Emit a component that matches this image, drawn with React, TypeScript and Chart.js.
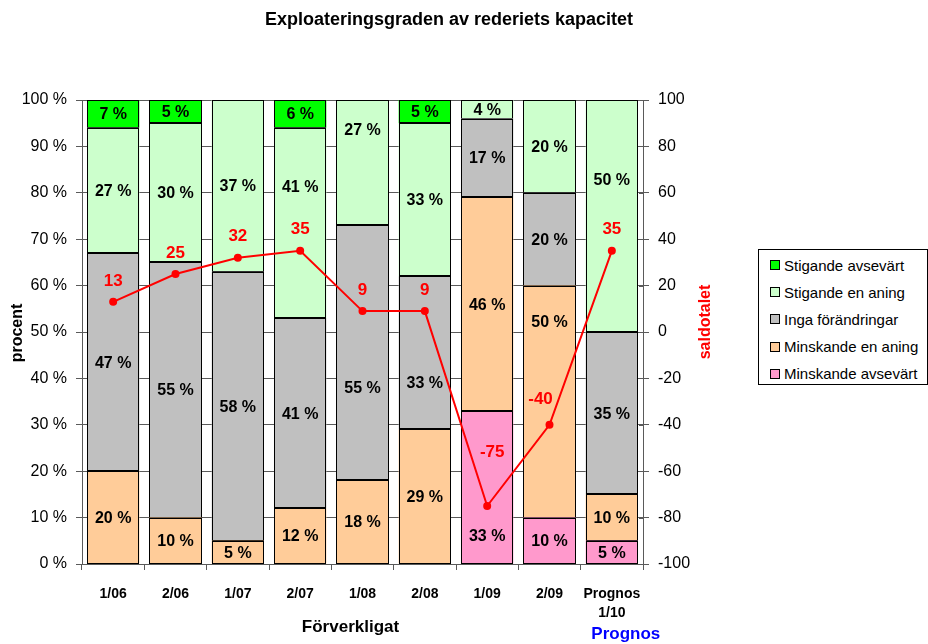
import { useEffect, useRef } from 'react';
import { Chart, registerables } from 'chart.js';

Chart.register(...registerables);

// Half-year periods; the last column is the forecast.
const periods: (string | string[])[] = ['1/06', '2/06', '1/07', '2/07', '1/08', '2/08', '1/09', '2/09', ['Prognos', '1/10']];

// Share of answers (%) per period, bottom of the stack first.
const minskandeAvsevart = [0, 0, 0, 0, 0, 0, 33, 10, 5];
const minskandeEnAning = [20, 10, 5, 12, 18, 29, 46, 50, 10];
const ingaForandringar = [47, 55, 58, 41, 55, 33, 17, 20, 35];
const stigandeEnAning = [27, 30, 37, 41, 27, 33, 4, 20, 50];
const stigandeAvsevart = [7, 5, 0, 6, 0, 5, 0, 0, 0];

// Balance figure (right axis).
const saldotalet = [13, 25, 32, 35, 9, 9, -75, -40, 35];

const leftTicks = [0, 10, 20, 30, 40, 50, 60, 70, 80, 90, 100];
const rightTicks = [-100, -80, -60, -40, -20, 0, 20, 40, 60, 80, 100];

const series = [
  { name: 'Minskande avsevärt', values: minskandeAvsevart, color: '#FF99CC' },
  { name: 'Minskande en aning', values: minskandeEnAning, color: '#FFCC99' },
  { name: 'Inga förändringar', values: ingaForandringar, color: '#C0C0C0' },
  { name: 'Stigande en aning', values: stigandeEnAning, color: '#CCFFCC' },
  { name: 'Stigande avsevärt', values: stigandeAvsevart, color: '#00FF00' },
];

const FONT = "'Liberation Sans', Arial, sans-serif";
const AXIS_COLOR = '#5a5a5a';

// Hand placement of labels that would otherwise collide with the balance line.
// key: `${seriesIndex}-${periodIndex}`, value: vertical shift in px
const barLabelShift: Record<string, number> = {
  '3-3': -36,
  '3-4': -33,
  '2-4': 35,
  '2-5': 30,
  '0-6': 48,
  '1-7': -80,
  '3-8': -36,
};
const lineLabelShift: Record<number, { dx: number; dy: number }> = {
  6: { dx: 5, dy: -54 },
  7: { dx: -9, dy: -25 },
};

const overlayPlugin = {
  id: 'overlay',
  // crisp 1px outline around every stacked segment
  afterDatasetDraw(chart: any, args: any) {
    if (args.index >= series.length) return;
    const { ctx, chartArea } = chart;
    ctx.save();
    ctx.strokeStyle = '#000';
    ctx.lineWidth = 1;
    args.meta.data.forEach((el: any, i: number) => {
      if (!series[args.index].values[i]) return;
      const { x, y, base, width } = el.getProps(['x', 'y', 'base', 'width'], true);
      const left = Math.round(x - width / 2) + 0.5;
      const right = Math.round(x + width / 2) - 0.5;
      const top = Math.round(Math.max(y, chartArea.top)) + 0.5;
      const bottom = Math.round(base) - 0.5;
      ctx.strokeRect(left, top, right - left, bottom - top);
    });
    ctx.restore();
  },
  afterDatasetsDraw(chart: any) {
    const { ctx, chartArea } = chart;
    ctx.save();
    ctx.textAlign = 'center';
    ctx.textBaseline = 'middle';

    // values inside the stacked segments
    ctx.font = `bold 16px ${FONT}`;
    ctx.fillStyle = '#000';
    series.forEach((s, di) => {
      const meta = chart.getDatasetMeta(di);
      meta.data.forEach((el: any, i: number) => {
        const v = s.values[i];
        if (!v) return;
        const { x, y, base } = el.getProps(['x', 'y', 'base'], true);
        const top = Math.max(y, chartArea.top);
        const cy = (top + base) / 2 + (barLabelShift[`${di}-${i}`] || 0);
        ctx.fillText(`${v} %`, x, cy + 1);
      });
    });

    // balance figure labels
    const lineMeta = chart.getDatasetMeta(series.length);
    ctx.font = `bold 17px ${FONT}`;
    ctx.fillStyle = '#FF0000';
    lineMeta.data.forEach((pt: any, i: number) => {
      const shift = lineLabelShift[i] || { dx: 0, dy: -21 };
      ctx.fillText(String(saldotalet[i]), pt.x + shift.dx, pt.y + shift.dy);
    });

    // right-axis tick marks cross the axis line
    const y2 = chart.scales.y2;
    ctx.strokeStyle = AXIS_COLOR;
    ctx.lineWidth = 1;
    rightTicks.forEach((v) => {
      const py = Math.round(y2.getPixelForValue(v)) + 0.5;
      ctx.beginPath();
      ctx.moveTo(chartArea.right - 4, py);
      ctx.lineTo(chartArea.right, py);
      ctx.stroke();
    });

    // title
    ctx.fillStyle = '#000';
    ctx.font = `bold 18px ${FONT}`;
    ctx.fillText('Exploateringsgraden av rederiets kapacitet', 449, 20);

    // axis titles
    const xs = chart.scales.x;
    ctx.font = `bold 17px ${FONT}`;
    ctx.fillText('Förverkligat', xs.getPixelForValue(4) - 12, 627);
    ctx.fillStyle = '#0000FF';
    ctx.fillText('Prognos', xs.getPixelForValue(8) + 14, 634);

    const midY = (chartArea.top + chartArea.bottom) / 2;
    ctx.font = `bold 16px ${FONT}`;
    ctx.fillStyle = '#000';
    ctx.save();
    ctx.translate(18, midY + 1);
    ctx.rotate(-Math.PI / 2);
    ctx.fillText('procent', 0, 0);
    ctx.restore();

    ctx.fillStyle = '#FF0000';
    ctx.save();
    ctx.translate(706, midY - 10);
    ctx.rotate(-Math.PI / 2);
    ctx.fillText('saldotalet', 0, 0);
    ctx.restore();

    ctx.restore();
  },
};

export default function App() {
  const canvasRef = useRef<HTMLCanvasElement>(null);

  useEffect(() => {
    if (!canvasRef.current) return;
    const chart = new Chart(canvasRef.current, {
      type: 'bar',
      data: {
        labels: periods,
        datasets: [
          ...series.map((s) => ({
            type: 'bar' as const,
            label: s.name,
            data: s.values.map((v) => (v ? v : null)),
            backgroundColor: s.color,
            borderWidth: 0,
            barPercentage: 0.84,
            categoryPercentage: 1,
            yAxisID: 'y',
            order: 1,
            clip: 0,
          })),
          {
            type: 'line' as const,
            label: 'Saldotalet',
            data: saldotalet,
            borderColor: '#FF0000',
            backgroundColor: '#FF0000',
            borderWidth: 2,
            pointRadius: 4,
            pointBorderWidth: 0,
            pointBackgroundColor: '#FF0000',
            yAxisID: 'y2',
            order: 0,
            tension: 0,
          },
        ],
      },
      options: {
        responsive: false,
        animation: false,
        layout: { padding: { top: 100, left: 0, right: 0, bottom: 0 } },
        plugins: {
          legend: { display: false },
          tooltip: { enabled: false },
        },
        scales: {
          x: {
            stacked: true,
            offset: true,
            grid: { offset: true, drawOnChartArea: false, drawTicks: true, tickLength: 6, color: AXIS_COLOR },
            border: { display: true, color: AXIS_COLOR },
            ticks: {
              color: '#000',
              font: { family: FONT, size: 14, weight: 'bold', lineHeight: 1.35 },
              padding: 15,
              maxRotation: 0,
              autoSkip: false,
            },
            afterFit(scale: any) {
              scale.height = 80;
            },
          },
          y: {
            stacked: true,
            min: 0,
            max: 100,
            position: 'left',
            afterBuildTicks(scale: any) {
              scale.ticks = leftTicks.map((v) => ({ value: v }));
            },
            ticks: {
              color: '#000',
              font: { family: FONT, size: 16 },
              padding: 9,
              callback: (v: any) => `${v} %`,
            },
            grid: { color: AXIS_COLOR, tickLength: 6, drawTicks: true },
            border: { display: true, color: AXIS_COLOR },
            afterFit(scale: any) {
              scale.width = 82;
            },
          },
          y2: {
            min: -100,
            max: 100,
            position: 'right',
            afterBuildTicks(scale: any) {
              scale.ticks = rightTicks.map((v) => ({ value: v }));
            },
            ticks: {
              color: '#000',
              font: { family: FONT, size: 16 },
              padding: 9,
            },
            grid: { drawOnChartArea: false, tickLength: 6, color: AXIS_COLOR },
            border: { display: true, color: AXIS_COLOR },
            afterFit(scale: any) {
              scale.width = 285;
            },
          },
        },
      },
      plugins: [overlayPlugin],
    });
    return () => chart.destroy();
  }, []);

  const legendItems = [...series].reverse();

  return (
    <div style={{ position: 'absolute', left: 0, top: 0, width: 928, height: 644, background: '#fff' }}>
      <canvas ref={canvasRef} width={928} height={644} style={{ display: 'block' }} />
      <div
        style={{
          position: 'absolute',
          left: 758,
          top: 249,
          width: 168,
          height: 134,
          border: '1px solid #000',
          background: '#fff',
          fontFamily: FONT,
          fontSize: 15,
          color: '#000',
        }}
      >
        {legendItems.map((s, i) => (
          <div
            key={s.name}
            style={{ position: 'absolute', left: 11, top: 5 + i * 27.2, height: 20, display: 'flex', alignItems: 'center', whiteSpace: 'nowrap' }}
          >
            <span
              style={{ display: 'inline-block', width: 8, height: 8, border: '1px solid #000', background: s.color, marginRight: 4 }}
            />
            <span>{s.name}</span>
          </div>
        ))}
      </div>
    </div>
  );
}
